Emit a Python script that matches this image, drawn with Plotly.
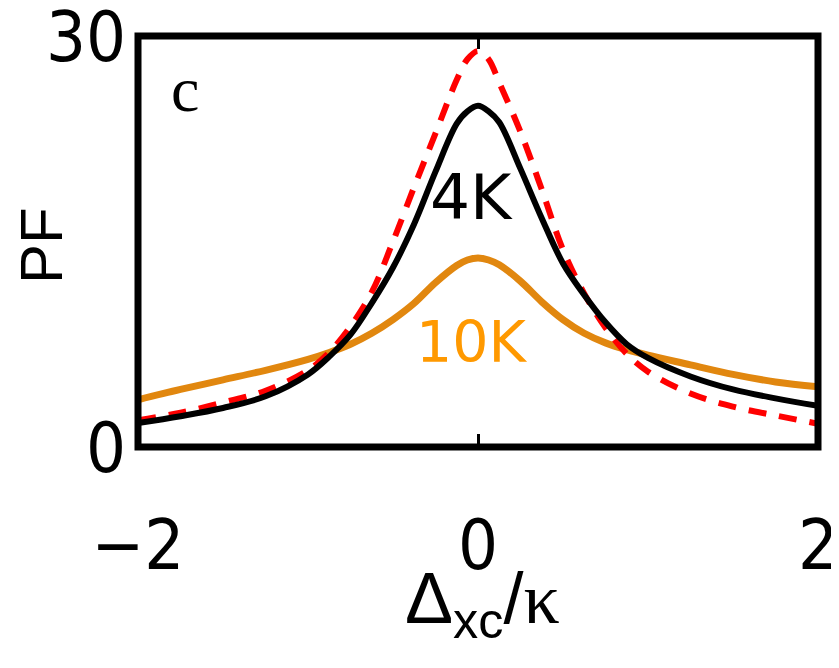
import plotly.graph_objects as go

# Detuning grid (Delta_xc / kappa)
x_vals = [-2.0, -1.75, -1.5, -1.25, -1.0, -0.875, -0.75, -0.625, -0.5, -0.375,
          -0.25, -0.125, -0.0625, 0.0, 0.0625, 0.125, 0.25, 0.375, 0.5, 0.625,
          0.75, 0.875, 1.0, 1.25, 1.5, 1.75, 2.0]

# red dashed curve (ideal / 0K)
pf_red = [1.95, 2.5, 3.25, 4.1, 5.6, 6.9, 8.8, 11.3, 15.0, 19.0,
          22.9, 26.8, 28.3, 28.9, 28.3, 26.6, 23.0, 18.8, 14.4, 11.2,
          8.7, 6.8, 5.5, 3.9, 2.95, 2.3, 1.7]

# black curve (4K)
pf_4k = [1.75, 2.25, 2.85, 3.7, 5.3, 6.6, 8.2, 10.5, 13.1, 16.3,
         20.1, 23.6, 24.5, 24.9, 24.5, 23.7, 20.3, 16.7, 13.4, 11.1,
         9.1, 7.5, 6.5, 5.15, 4.2, 3.55, 3.0]

# orange curve (10K)
pf_10k = [3.45, 4.2, 4.9, 5.6, 6.4, 6.9, 7.5, 8.3, 9.3, 10.5,
          12.0, 13.25, 13.65, 13.8, 13.65, 13.3, 12.1, 10.6, 9.3, 8.3,
          7.6, 7.1, 6.7, 6.0, 5.3, 4.75, 4.4]

x_ticks = [-2, 0, 2]
x_tick_text = ["\u22122", "0", "2"]
y_ticks = [0, 30]
y_tick_text = ["0", "30"]

TICKFONT = "DejaVu Sans Condensed, Liberation Sans Narrow, sans-serif"

# page offset (body margin) of 8 px; plot box in page pixels: x 138..818, y 36..447
OFF = 8
PL, PR, PT, PB = 138, 818, 36, 447
W, H = 839 - 2 * OFF, 668 - 2 * OFF


def px(xp):
    return (xp - PL) / (PR - PL)


def py(yp):
    return (PB - yp) / (PB - PT)


fig = go.Figure()
fig.add_trace(go.Scatter(x=x_vals, y=pf_10k, mode="lines", line_shape="spline",
                         line=dict(color="#E1870F", width=7), showlegend=False))
fig.add_trace(go.Scatter(x=x_vals, y=pf_red, mode="lines", line_shape="spline",
                         line=dict(color="#FF0000", width=6, dash="18px,13px"),
                         showlegend=False))
fig.add_trace(go.Scatter(x=x_vals, y=pf_4k, mode="lines", line_shape="spline",
                         line=dict(color="#000000", width=6), showlegend=False))

fig.update_layout(
    width=W, height=H,
    margin=dict(l=PL - OFF, r=W - (PR - OFF), t=PT - OFF, b=H - (PB - OFF), pad=0,
                autoexpand=False),
    paper_bgcolor="white", plot_bgcolor="white",
    xaxis=dict(range=[-2, 2], tickvals=x_ticks, ticktext=x_tick_text,
               showline=False, mirror="ticks", automargin=False,
               ticks="inside", ticklen=13, tickwidth=3, tickcolor="black",
               showgrid=False, zeroline=False, ticklabelstandoff=51,
               ticklabeloverflow="allow",
               tickfont=dict(family=TICKFONT, size=70, color="black")),
    yaxis=dict(range=[0, 30], tickvals=y_ticks, ticktext=y_tick_text,
               showline=False, ticks="", showgrid=False, zeroline=False,
               automargin=False, ticklabelstandoff=11, ticklabeloverflow="allow",
               tickfont=dict(family=TICKFONT, size=70, color="black")),
    shapes=[dict(type="rect", xref="paper", yref="paper", x0=0, x1=1, y0=0, y1=1,
                 line=dict(color="black", width=7), layer="above")],
    annotations=[
        dict(text="c", x=px(185), y=py(90), xref="paper", yref="paper",
             xanchor="center", yanchor="middle", showarrow=False,
             font=dict(family="Liberation Serif, Times New Roman, serif",
                       size=64, color="black")),
        dict(text="4K", x=px(471), y=py(198), xref="paper", yref="paper",
             xanchor="center", yanchor="middle", showarrow=False,
             font=dict(family="DejaVu Sans, Verdana, sans-serif", size=63, color="black")),
        dict(text="10K", x=px(472), y=py(342), xref="paper", yref="paper",
             xanchor="center", yanchor="middle", showarrow=False,
             font=dict(family="DejaVu Sans, Verdana, sans-serif", size=57, color="#FF9900")),
        dict(text="PF", x=px(41), y=py(246), xref="paper", yref="paper",
             xanchor="center", yanchor="middle", textangle=-90, showarrow=False,
             font=dict(family="Liberation Sans, Arial, sans-serif", size=60, color="black")),
        dict(text="\u0394<sub>xc</sub>/<span style='font-family:Liberation Serif, serif'>\u03ba</span>",
             x=px(482), y=py(603), xref="paper", yref="paper",
             xanchor="center", yanchor="middle", showarrow=False,
             font=dict(family="Liberation Sans, Arial, sans-serif", size=72, color="black")),
    ],
)

fig.write_html("out.html")
